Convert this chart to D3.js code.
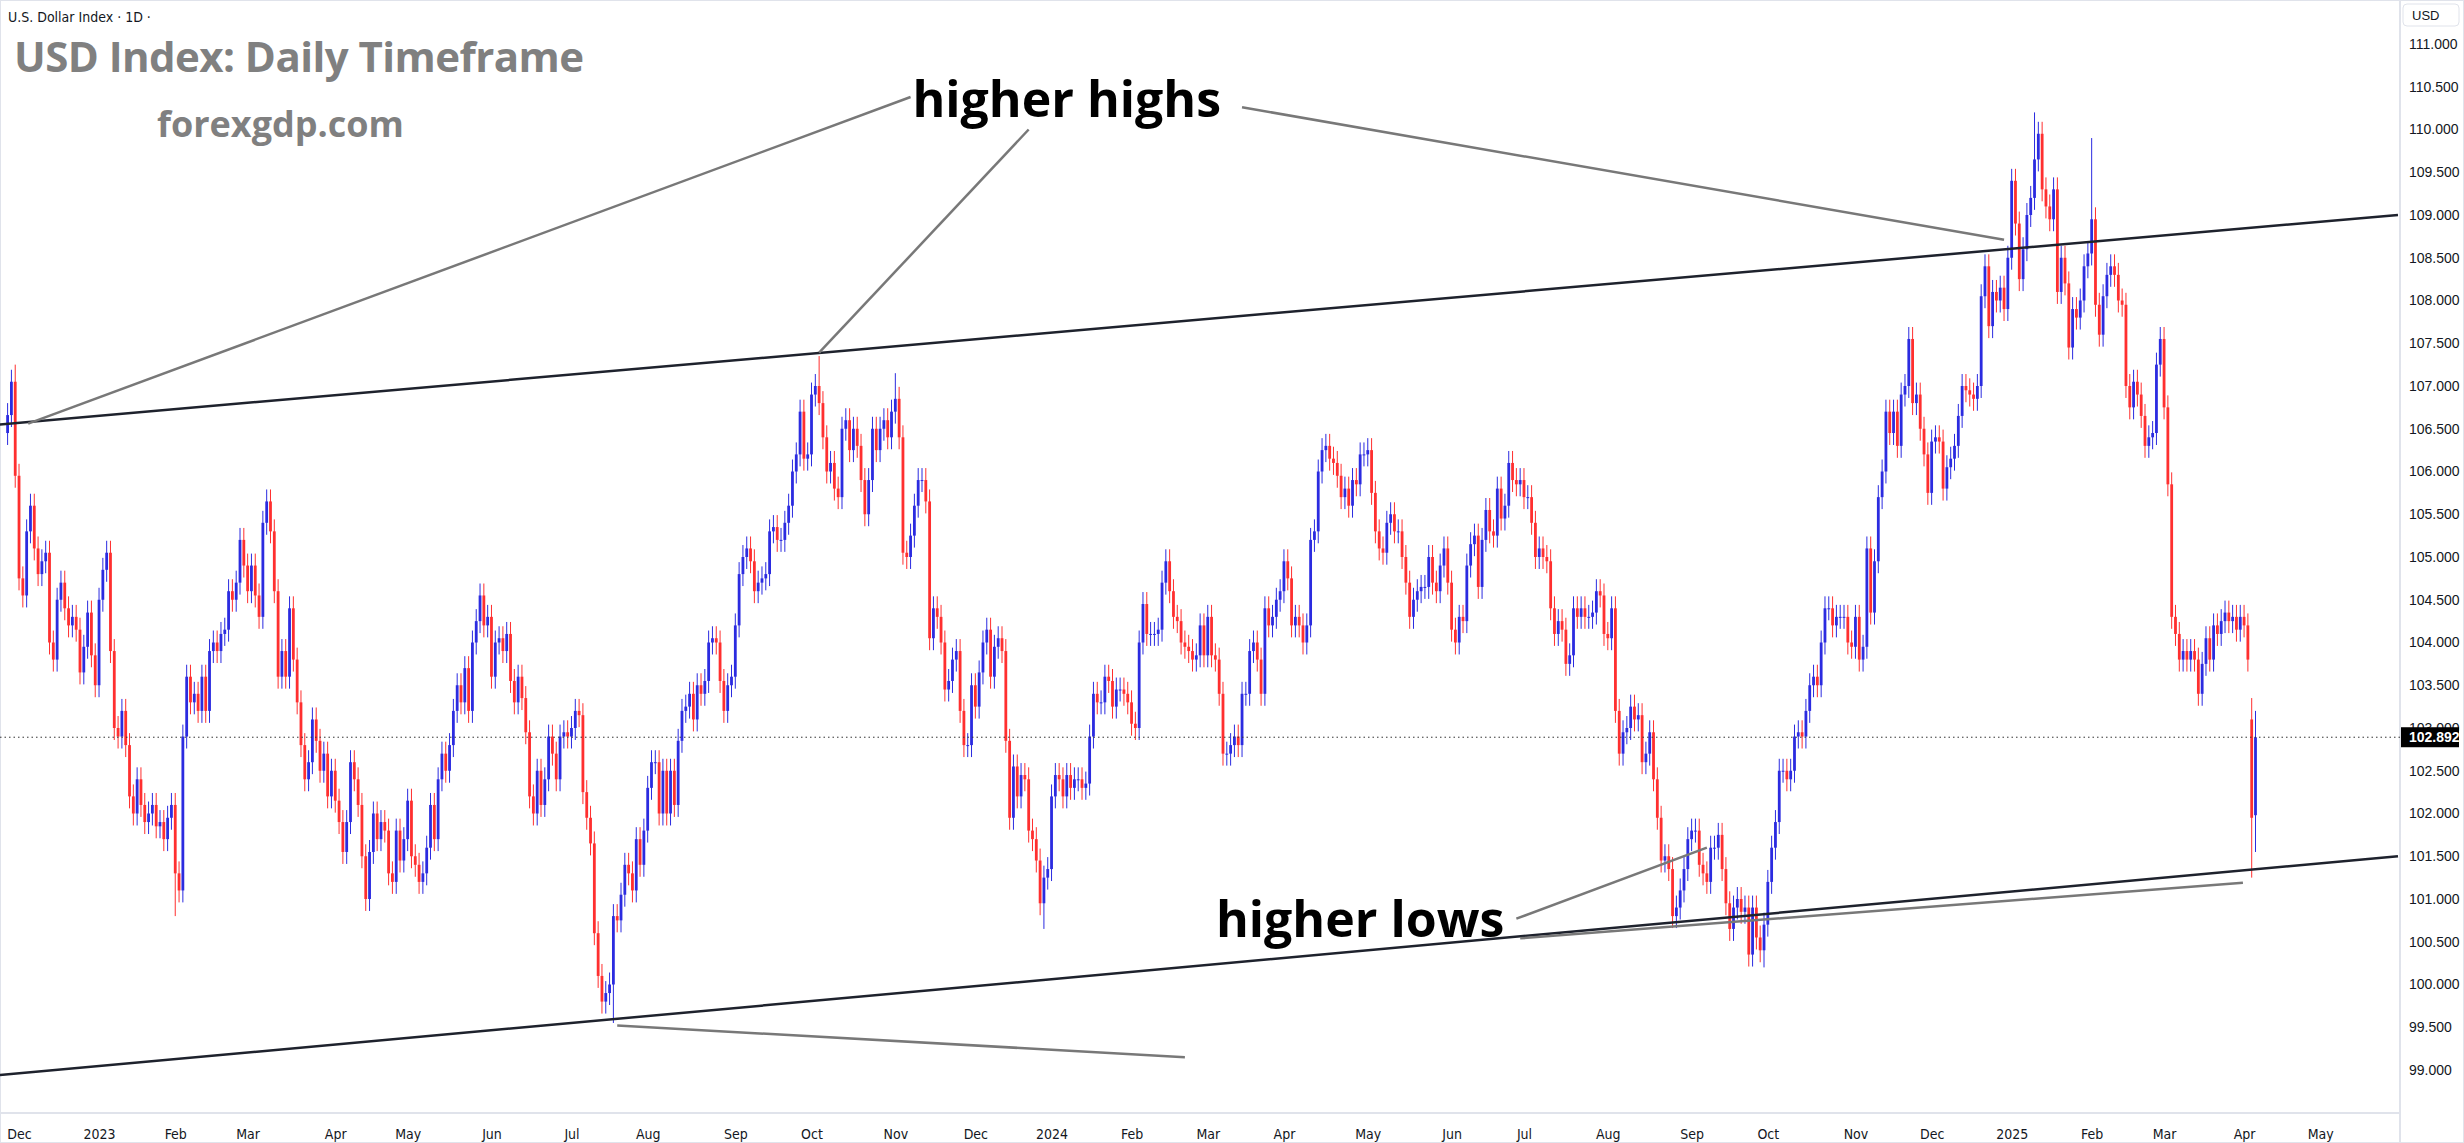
<!DOCTYPE html>
<html><head><meta charset="utf-8">
<script src="https://cdn.jsdelivr.net/npm/d3@7/dist/d3.min.js"></script>
<style>body{margin:0;background:#fff}svg{display:block}</style></head>
<body><svg id="c" width="2464" height="1143"></svg>
<script>
const closes2022=[106.66,107.05,105.95,
104.75,104.55,105.30,105.60,105.10,104.80,104.95,105.05,104.00,103.80,104.50,104.70,104.40,104.20,104.30,104.15,103.65,103.95,104.35,103.85,103.50];
const closes2023=[104.50,104.85,105.05,103.90,103.00,102.90,103.20,102.80,102.20,102.00,102.40,102.10,101.90,102.00,102.10,101.85,101.90,101.70,101.95,102.10,
101.30,101.10,102.90,103.60,103.30,103.40,103.20,103.60,103.20,103.90,104.00,103.90,104.10,104.15,104.60,104.50,104.70,105.20,104.90,
104.60,104.90,104.55,104.30,105.40,105.65,105.30,104.60,103.60,103.90,103.60,104.40,103.80,103.30,102.80,102.40,102.60,103.10,102.85,102.50,102.70,102.20,102.50,
102.15,101.90,101.55,101.90,102.60,102.40,102.10,101.50,101.00,101.55,102.00,101.70,101.90,101.80,101.30,101.20,101.80,101.45,101.70,
102.15,101.50,101.40,101.20,101.30,101.60,102.10,101.70,102.40,102.70,102.50,102.80,103.20,103.50,103.30,103.70,103.20,104.00,104.25,104.55,104.20,104.30,
103.60,104.00,104.05,103.90,104.10,103.55,103.30,103.60,103.35,102.95,102.20,102.00,102.50,102.10,102.40,102.90,102.70,102.40,102.90,102.95,102.90,
103.00,103.20,103.15,102.25,101.95,101.65,100.60,100.10,99.80,99.90,100.00,100.80,100.75,101.05,101.40,101.30,101.10,101.70,101.40,101.80,
102.30,102.60,102.60,102.00,102.50,102.00,102.50,102.10,102.85,103.20,103.25,103.40,103.10,103.50,103.40,103.55,104.00,104.05,104.00,103.55,103.20,103.50,103.60,
104.20,104.80,105.00,105.10,104.95,104.60,104.70,104.75,104.80,105.30,105.35,105.20,105.20,105.40,105.60,106.00,106.20,106.70,106.15,106.20,
106.90,107.00,106.80,106.40,106.00,106.10,105.80,105.70,106.50,106.60,106.25,106.50,106.30,105.90,105.50,105.90,106.50,106.25,106.50,106.60,106.40,106.70,
106.85,106.40,105.05,105.00,105.25,105.60,105.90,105.90,105.65,104.05,104.40,104.30,104.00,103.45,103.55,103.80,103.90,103.20,102.80,102.80,103.50,
103.25,103.65,104.00,104.15,103.60,103.95,104.05,103.90,102.85,101.95,102.55,102.20,102.45,102.40,101.80,101.70,101.45,100.95,101.25,101.35];
const closes2024=[102.20,102.45,102.40,102.20,102.45,102.30,102.40,102.40,102.30,102.35,102.90,103.40,103.30,103.30,103.60,103.55,103.25,103.45,103.45,103.40,103.30,
103.05,103.00,104.00,104.45,104.10,104.10,104.10,104.15,104.70,104.95,104.60,104.30,104.25,104.00,103.95,103.90,103.80,103.85,104.20,103.85,
104.30,103.85,103.80,103.40,102.70,102.70,102.80,102.90,102.80,103.40,103.40,103.90,104.00,103.80,103.40,104.40,104.20,104.30,104.50,104.60,
104.95,104.75,104.20,104.30,104.20,104.00,104.20,105.20,105.30,106.00,106.25,106.30,106.15,106.10,105.95,105.70,105.80,105.60,105.90,105.85,106.20,106.20,
106.25,105.75,105.30,105.10,105.05,105.40,105.50,105.30,105.30,105.00,104.70,104.30,104.50,104.60,104.65,104.65,105.00,104.70,104.60,104.90,105.10,104.70,
104.15,104.00,104.30,104.25,104.90,105.15,105.25,104.65,105.20,105.55,105.30,105.25,105.80,105.45,105.60,106.10,105.90,105.85,105.90,
105.70,105.70,105.40,105.00,105.10,105.00,104.95,104.40,104.10,104.25,104.15,103.75,103.85,104.40,104.30,104.40,104.30,104.30,104.35,104.60,104.55,104.10,
104.05,104.40,103.20,102.70,102.95,103.00,103.25,103.10,103.15,102.60,102.70,102.95,102.40,101.95,101.45,101.50,101.35,100.80,100.90,101.10,101.35,101.70,
101.80,101.80,101.40,101.30,101.20,101.60,101.60,101.75,101.35,100.95,100.65,100.90,101.00,100.85,100.90,100.35,100.90,100.55,100.40,100.70,
101.20,101.60,101.90,102.50,102.50,102.40,102.50,102.90,102.95,102.90,103.20,103.50,103.60,103.50,104.00,104.40,104.40,104.20,104.30,104.30,104.30,104.00,103.95,
104.30,103.80,103.95,105.10,104.35,104.95,105.70,106.00,106.70,106.45,106.70,106.30,106.90,107.00,107.55,106.80,106.90,106.50,106.20,105.75,
106.35,106.40,106.35,105.80,106.05,106.15,106.30,106.65,107.00,106.95,106.90,106.85,107.00,108.05,108.40,107.70,108.10,108.00,108.15,107.90,108.50];
const closes2025=[109.40,108.90,108.25,108.60,109.00,109.20,109.65,109.95,109.30,109.10,108.95,109.30,108.10,108.50,108.20,107.45,107.90,107.80,108.00,108.40,108.55,
108.95,107.95,107.60,108.05,108.30,108.40,108.30,108.00,107.95,107.00,106.75,107.05,106.90,106.65,106.30,106.40,106.45,107.25,107.55,
106.75,105.85,104.30,104.10,103.80,103.90,103.80,103.90,103.80,103.40,103.75,104.05,103.80,104.20,104.10,104.25,104.35,104.25,104.30,104.15,104.30,
104.20,103.80,101.95,102.892];
// [day index, price] of notable wick extremes
const wickHighs=[[2,107.25],[213,107.35],[233,107.15],[532,110.2],[547,109.9]];
const wickLows=[[44,100.8],[159,99.55],[272,100.65],[461,100.2]];
// last two candles [open, high, low] (gaps)
const lastTwoOHL=[[103.1,103.35,101.25],[101.98,103.2,101.55]];
const priceTicks=d3.range(99,111.001,0.5);
const monthLabels=["Jan","Feb","Mar","Apr","May","Jun","Jul","Aug","Sep","Oct","Nov","Dec"];
const holidays=["2022-12-26","2023-01-02","2023-01-16","2023-02-20","2023-04-07","2023-05-29","2023-06-19","2023-07-04","2023-09-04","2023-11-23","2023-12-25","2024-01-01","2024-01-15","2024-02-19","2024-03-29","2024-05-27","2024-06-19","2024-07-04","2024-09-02","2024-11-28","2024-12-25","2025-01-01","2025-01-20","2025-02-17"];
const upperLine=[[-2,106.55],[627.4,109.0]];
const lowerLine=[[-2,98.94],[627.4,101.5]];
const annoLines=[[[237,110.38],[5.4,106.56]],[[268,110.0],[213,107.39]],[[324,110.26],[524,108.71]],
 [[160,99.52],[309,99.15]],[[396,100.77],[446,101.6]],[[397,100.54],[586.7,101.19]]];
const annoTexts=[{t:"higher highs",i:278,v:110.15},{t:"higher lows",i:355,v:100.56}];

const closes=[...closes2022,...closes2023,...closes2024,...closes2025];
const fmt=d3.timeFormat("%Y-%m-%d");
const dates=[];let d=new Date(2022,10,28);
while(dates.length<closes.length){const wd=d.getDay();if(wd>0&&wd<6&&!holidays.includes(fmt(d)))dates.push(new Date(d));d.setDate(d.getDate()+1);}
const data=closes.map((c,i)=>{const o=i?closes[i-1]:106.45;return{i,o,c,h:Math.max(o,c)+0.14,l:Math.min(o,c)-0.14,date:dates[i]};});
wickHighs.forEach(([i,v])=>{if(data[i])data[i].h=v;});
wickLows.forEach(([i,v])=>{if(data[i])data[i].l=v;});
lastTwoOHL.forEach(([o,h,l],k)=>{const dd=data[data.length-2+k];dd.o=o;dd.h=h;dd.l=l;});

const svg=d3.select("#c");
const W=2400,H=1113;
const x=d3.scaleLinear().domain([0,1]).range([7.6,7.6+3.81]);
const y=d3.scaleLinear().domain([111,99]).range([44,1070]);
const UP="#2b2be0",DN="#ff2f2f";
svg.append("rect").attr("x",0.5).attr("y",0.5).attr("width",2463).attr("height",1142).attr("fill","none").attr("stroke","#e0e3eb");
svg.append("line").attr("x1",W).attr("x2",W).attr("y1",0).attr("y2",1143).attr("stroke","#e0e3eb").attr("stroke-width",2);
svg.append("line").attr("x1",0).attr("x2",W).attr("y1",H).attr("y2",H).attr("stroke","#e0e3eb").attr("stroke-width",2);

const g=svg.append("g");
g.selectAll(".w").data(data).join("line").attr("x1",d=>x(d.i)).attr("x2",d=>x(d.i)).attr("y1",d=>y(d.h)).attr("y2",d=>y(d.l))
 .attr("stroke",d=>d.c>=d.o?UP:DN).attr("stroke-width",1);
g.selectAll(".b").data(data).join("rect").attr("x",d=>x(d.i)-1.4).attr("width",2.8)
 .attr("y",d=>y(Math.max(d.o,d.c))).attr("height",d=>Math.max(1,Math.abs(y(d.o)-y(d.c))))
 .attr("fill",d=>d.c>=d.o?UP:DN);

const last=closes[closes.length-1];
svg.append("line").attr("x1",0).attr("x2",W).attr("y1",y(last)).attr("y2",y(last)).attr("stroke","#333").attr("stroke-dasharray","1.5,3");

const line=d3.line().x(p=>x(p[0])).y(p=>y(p[1]));
[upperLine,lowerLine].forEach(l=>svg.append("path").attr("d",line(l)).attr("stroke","#1e222d").attr("stroke-width",2.5).attr("fill","none"));
annoLines.forEach(l=>svg.append("path").attr("d",line(l)).attr("stroke","#787878").attr("stroke-width",2.5).attr("fill","none"));
annoTexts.forEach(a=>svg.append("text").attr("x",x(a.i)).attr("y",y(a.v)).attr("text-anchor","middle")
 .attr("font-family","Open Sans, sans-serif").attr("font-weight",700).attr("font-size",50).attr("fill","#000").text(a.t));

const ya=svg.append("g").attr("transform",`translate(${W},0)`).call(d3.axisRight(y).tickValues(priceTicks).tickSize(0).tickPadding(9).tickFormat(d3.format(".3f")));
ya.select(".domain").remove();
ya.selectAll("text").attr("font-family","Liberation Sans, Arial, sans-serif").attr("font-size",14).attr("fill","#131722");
const ticks=[{i:3,lab:"Dec"}];
data.forEach((d,i)=>{if(i<4)return;const p=data[i-1].date;if(d.date.getMonth()!==p.getMonth())ticks.push({i,lab:d.date.getMonth()===0?String(d.date.getFullYear()):monthLabels[d.date.getMonth()]});});
ticks.push({i:closes.length-4+20,lab:"May"});
const xa=svg.append("g").attr("transform",`translate(0,${H})`).call(d3.axisBottom(x).tickValues(ticks.map(t=>t.i)).tickSize(0).tickPadding(16).tickFormat(v=>ticks.find(t=>t.i===v).lab));
xa.select(".domain").remove();
xa.selectAll("text").attr("font-family","DejaVu Sans Condensed, DejaVu Sans, sans-serif").attr("font-size",14).attr("fill","#131722");

svg.append("rect").attr("x",W+1).attr("y",y(last)-10).attr("width",58).attr("height",20).attr("fill","#000");
svg.append("text").attr("x",W+9).attr("y",y(last)+5).attr("font-family","Liberation Sans, Arial, sans-serif").attr("font-size",14).attr("font-weight",700).attr("fill","#fff").text(last.toFixed(3));
svg.append("rect").attr("x",W+3).attr("y",4).attr("width",56).attr("height",22).attr("rx",4).attr("fill","#fff").attr("stroke","#e0e3eb");
svg.append("text").attr("x",W+12).attr("y",20).attr("font-family","Liberation Sans, Arial, sans-serif").attr("font-size",13).attr("fill","#131722").text("USD");

svg.append("text").attr("x",8).attr("y",22).attr("font-family","DejaVu Sans Condensed, sans-serif").attr("font-size",14).attr("fill","#131722").text("U.S. Dollar Index · 1D ·");
svg.append("text").attr("x",14).attr("y",72).attr("font-family","Open Sans, sans-serif").attr("font-weight",700).attr("font-size",42).attr("fill","#808080").attr("textLength",570).text("USD Index: Daily Timeframe");
svg.append("text").attr("x",157).attr("y",137).attr("font-family","Open Sans, sans-serif").attr("font-weight",700).attr("font-size",36).attr("fill","#808080").text("forexgdp.com");
</script></body></html>
